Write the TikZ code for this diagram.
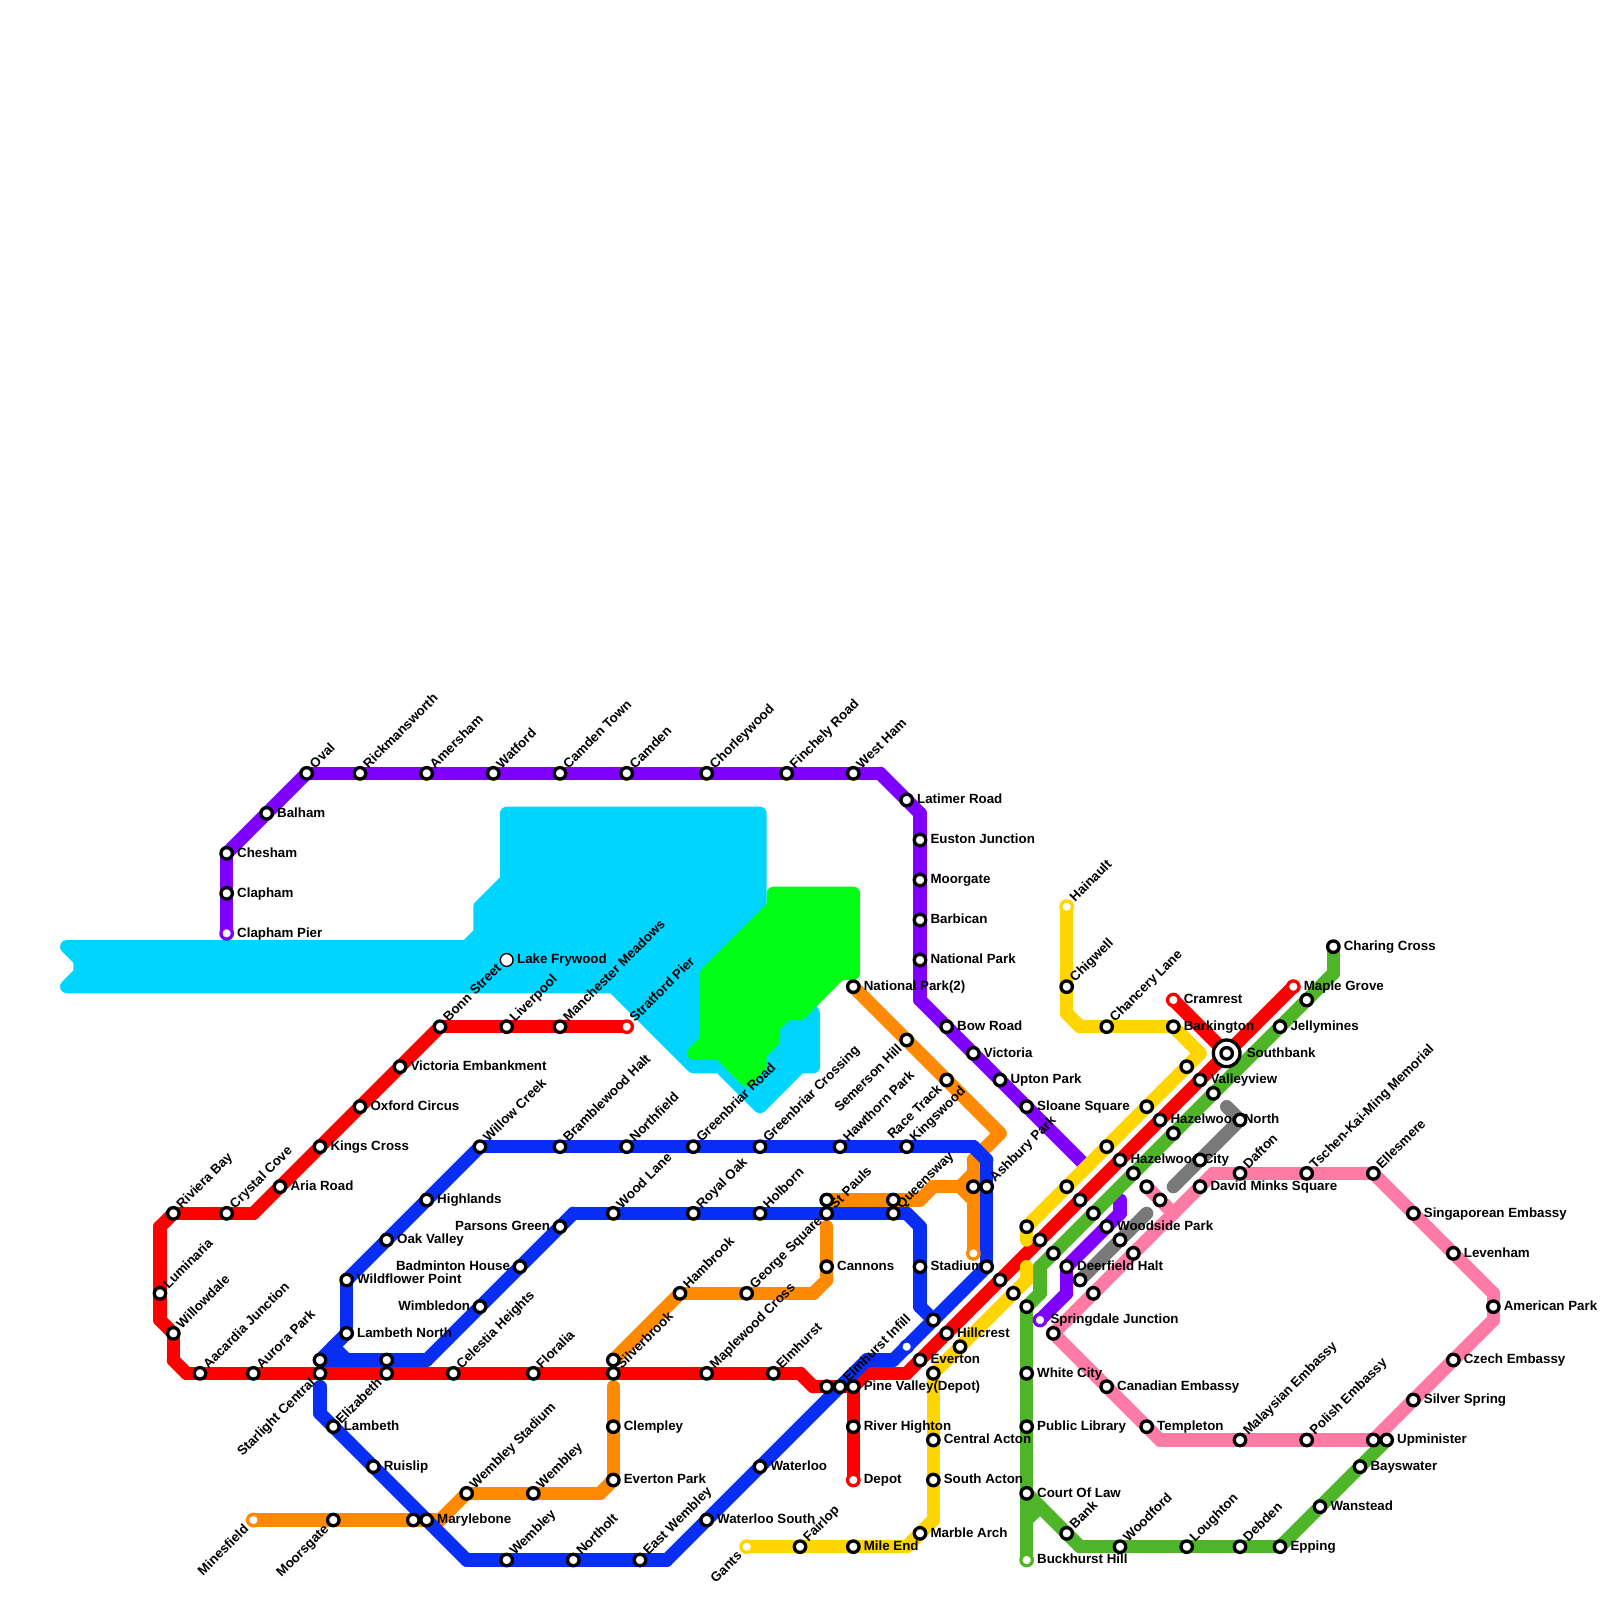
\documentclass[tikz,border=0pt]{standalone}
\usepackage{fontspec}
\setmainfont{Liberation Sans}
\usetikzlibrary{calc}
\definecolor{cwater}{HTML}{00D5FF}
\definecolor{cgrass}{HTML}{00FF14}
\definecolor{lpurple}{HTML}{8000FF}
\definecolor{lred}{HTML}{FF0000}
\definecolor{lblue}{HTML}{082EF5}
\definecolor{lorange}{HTML}{FF8A00}
\definecolor{lyellow}{HTML}{FFD500}
\definecolor{lgreen}{HTML}{4FB528}
\definecolor{lpink}{HTML}{FF7BA6}
\definecolor{lgray}{HTML}{797979}
\pgfdeclarelayer{water}
\pgfdeclarelayer{lines}
\pgfdeclarelayer{labels}
\pgfsetlayers{water,lines,labels,main}
\tikzset{
  ln/.style={line width=0.25cm,line cap=round,line join=round},
  rpurple/.style={ln,draw=lpurple},
  rred/.style={ln,draw=lred},
  rblue/.style={ln,draw=lblue},
  rorange/.style={ln,draw=lorange},
  ryellow/.style={ln,draw=lyellow},
  rgreen/.style={ln,draw=lgreen},
  rpink/.style={ln,draw=lpink},
  rgray/.style={ln,draw=lgray},
  stnring/.style={circle,inner sep=0pt,minimum size=0.215cm,line width=0.062cm,fill=white},
  stn/.style={stnring,draw=black},
  lakestn/.style={circle,inner sep=0pt,minimum size=0.24cm,line width=0.025cm,fill=white,draw=black},
  bigstn/.style={circle,inner sep=0pt,minimum size=0.5cm,line width=0.062cm,fill=white,draw=black},
  lab/.style={inner sep=0pt,text height=0.16cm,text depth=0.04cm,font=\fontsize{7.11}{8}\selectfont\bfseries,text=black},
  labr/.style={lab,anchor=west,xshift=0.19cm,yshift=-0.01cm},
  labl/.style={lab,anchor=east,xshift=-0.18cm,yshift=-0.01cm},
  laba/.style={lab,anchor=west,rotate=45,xshift=0.16cm},
  labb/.style={lab,anchor=east,rotate=45,xshift=-0.18cm,yshift=-0.02cm},
}
\newcommand\route[2]{\gdef\prevp{}\foreach \p in {#2}{\ifx\prevp\empty\else\draw[#1] (\prevp.center) -- (\p.center);\fi\xdef\prevp{\p}}}
\newcommand\R[2]{\node[labr] (lab-#1) at (#1.center) {#2};}
\newcommand\Lf[2]{\node[labl] (lab-#1) at (#1.center) {#2};}
\newcommand\A[2]{\node[laba] (lab-#1) at (#1.center) {#2};}
\newcommand\B[2]{\node[labb] (lab-#1) at (#1.center) {#2};}
\begin{document}
\begin{tikzpicture}[x=0.25cm,y=-0.25cm]
\useasboundingbox (0,0) rectangle (120,120);
% stations
\foreach \n/\x/\y in {
 clapham/17/67,chesham/17/64,balham/20/61,oval/23/58,rick/27/58,amersham/32/58,watford/37/58,camdent/42/58,camden/47/58,chorley/53/58,finchely/59/58,westham/64/58,latimer/68/60,euston/69/63,moorgate/69/66,barbican/69/69,natpark/69/72,bowroad/71/77,victoria/73/79,upton/75/81,sloane/77/83,
 woodside/83/92,deerfield/80/95,
 manchester/42/77,liverpool/38/77,bonn/33/77,vicemb/30/80,oxford/27/83,kings/24/86,aria/21/89,crystal/17/91,riviera/13/91,luminaria/12/97,willowdale/13/100,aacardia/15/103,aurora/19/103,starlight/24/103,elizabeth/29/103,celestia/34/103,floralia/40/103,silverbrook/46/103,maplewood/53/103,elmhurst/58/103,rs1/62/104,elminfill/63/104,pinevalley/64/104,everton/69/102,hillcrest/71/100,rs2/75/96,rs3/78/93,rs4/81/90,hazcity/84/87,haznorth/87/84,valleyview/90/81,river/64/107,
 ys1/77/92,ys2/80/89,ys3/83/86,ys4/86/83,ys5/89/80,barkington/88/77,chancery/83/77,chigwell/80/74,ys6/76/97,ys7/72/101,ys8/70/103,central/70/108,southacton/70/111,marble/69/115,mileend/64/116,fairlop/60/116,
 gs1/77/98,gs2/79/94,gs3/82/91,gs4/85/88,gs5/88/85,gs6/91/82,jelly/96/77,gs7/98/75,charing/100/71,whitecity/77/103,publib/77/107,court/77/112,bank/80/115,woodford/84/116,loughton/89/116,debden/93/116,epping/96/116,wanstead/99/113,bayswater/102/110,upminister/104/108,
 ps0/79/100,canadian/83/104,templeton/86/107,malaysian/93/108,polish/98/108,ps1/103/108,silver/106/105,czech/109/102,american/112/98,levenham/109/94,singaporean/106/91,ellesmere/103/88,tschen/98/88,dafton/93/88,david/90/89,ps2/85/94,ps3/82/97,ps4/86/89,ps5/87/90,
 grs1/93/84,grs2/90/87,grs3/84/93,grs4/81/96,
 willow/36/86,bramble/42/86,northfield/47/86,greenroad/52/86,greencross/57/86,hawthorn/63/86,kingswood/68/86,ashbury/74/89,bs1/74/95,bs2/70/99,waterloo/57/110,waterloos/53/114,eastwembley/48/117,northolt/43/117,wembleyb/38/117,marylebone/32/114,ruislip/28/110,lambeth/25/107,bs3/24/102,lambethn/26/100,wildflower/26/96,oakvalley/29/93,highlands/32/90,bs4/29/102,wimbledon/36/98,badminton/39/95,parsons/42/92,woodlane/46/91,royaloak/52/91,holborn/57/91,stpauls/62/91,queensway/67/91,stadium/69/95,
 moorsgate/25/114,os1/31/114,wembstad/35/112,wembleyo/40/112,evpark/46/111,clempley/46/107,os2/46/102,hambrook/51/97,george/56/97,cannons/62/95,os3/62/90,os4/67/90,os5/73/89,natpark2/64/74,semerson/68/78,racetrack/71/81%
}{\node[stn] (\n) at (\x,\y) {};}
\foreach \n/\x/\y/\c in {
 claphampier/17/70/lpurple,springdale/78/99/lpurple,stratford/47/77/lred,cramrest/88/75/lred,maple/97/74/lred,depot/64/111/lred,
 hainault/80/68/lyellow,gants/56/116/lyellow,buckhurst/77/117/lgreen,minesfield/19/114/lorange,oterm/73/94/lorange,bterm/68/101/lblue%
}{\node[stnring,draw=\c] (\n) at (\x,\y) {};}
\node[lakestn] (lake) at (38,72) {};
\node[bigstn] (southbankring) at (92,79) {};
\node[stn] (southbank) at (92,79) {};
% corners
\foreach \n/\x/\y in {
 pc1/66/58,pc2/69/61,pc3/69/75,pc4/81.5/87.5,pc5/84/90,pc6/84/91,pc7/80/97,
 rc1/19/91,rc2/12/92,rc3/12/99,rc4/13/102,rc5/14/103,rc6/60/103,rc7/61/104,rc8/65/103,rc9/68/103,
 yc1/77/93,yc2/90/79,yc3/81/77,yc4/80/76,yc5/77/95,yc6/77/96,yc7/70/114,yc8/68/116,
 gc1/77/114,gc2/78/113,gc3/81/116,gc4/78/97,gc5/78/95,gc6/100/73,
 pkc1/87/108,pkc2/112/99,pkc3/112/97,pkc4/91/88,pkc5/88/91,
 grc1/92/83,grc2/88/89,grc3/86/91,
 bc1/73/86,bc2/74/87,bc3/67/102,bc4/65/102,bc5/50/117,bc6/35/117,bc7/24/106,bc8/24/104,bc9/25/101,bc10/26/102,bc11/32/102,bc12/43/91,bc13/68/91,bc14/69/92,bc15/69/98,
 oc1/33/114,oc2/45/112,oc3/46/104,oc4/61/97,oc5/62/96,oc6/69/90,oc7/70/89,oc8/72/89,oc9/75/85,oc10/73/87,oc11/73/90,oc12/73/88,oc13/62/92%
}{\coordinate (\n) at (\x,\y);}
% water
\begin{pgfonlayer}{water}
\fill[white] (0,0) rectangle (120,120);
\filldraw[fill=cwater,draw=cwater,line width=0.25cm,line join=round] (5,71) -- (35,71) -- (36,70) -- (36,68) -- (38,66) -- (38,61) -- (57,61) -- (57,70) -- (61,76) -- (61,80) -- (60,80) -- (57,83) -- (54,80) -- (52,80) -- (46,74) -- (5,74) -- (6,73) -- (6,72) -- cycle;
\filldraw[fill=cgrass,draw=cgrass,line width=0.25cm,line join=round] (58,67) -- (64,67) -- (64,73) -- (63,73) -- (60,76) -- (59,76) -- (58,77) -- (58,78) -- (57,79) -- (57,80) -- (56,81) -- (54,79) -- (52,79) -- (53,78) -- (53,73) -- (58,68) -- cycle;
\end{pgfonlayer}
% routes
\begin{pgfonlayer}{lines}
\route{rpurple}{claphampier,clapham,chesham,balham,oval,rick,amersham,watford,camdent,camden,chorley,finchely,westham,pc1,latimer,pc2,euston,moorgate,barbican,natpark,pc3,bowroad,victoria,upton,sloane,pc4}
\route{rpurple}{pc5,pc6,woodside,deerfield,pc7,springdale}
\route{rorange}{minesfield,moorsgate,os1,marylebone,oc1,wembstad,wembleyo,oc2,evpark,clempley,oc3}
\route{rorange}{os2,hambrook,george,oc4,oc5,cannons,oc13}
\route{rorange}{os3,os4,oc6,oc7,oc8,oc12}
\route{rorange}{natpark2,semerson,racetrack,oc9,oc10,oc12,os5,oc11,oterm}
\route{rorange}{oc8,oc11}
\route{rred}{stratford,manchester,liverpool,bonn,vicemb,oxford,kings,aria,rc1,crystal,riviera,rc2,luminaria,rc3,willowdale,rc4,rc5,aacardia,aurora,starlight,elizabeth,celestia,floralia,silverbrook,maplewood,elmhurst,rc6,rc7,rs1,elminfill,pinevalley,rc8,rc9,everton,hillcrest,rs2,rs3,rs4,hazcity,haznorth,valleyview,southbank,maple}
\route{rred}{cramrest,southbank}
\route{rred}{pinevalley,river,depot}
\route{rblue}{wildflower,oakvalley,highlands,willow,bramble,northfield,greenroad,greencross,hawthorn,kingswood,bc1,bc2,ashbury,bs1,bterm,bc3,bc4,elminfill,waterloo,waterloos,bc5,eastwembley,northolt,wembleyb,bc6,marylebone,ruislip,lambeth,bc7,bc8}
\route{rblue}{wildflower,lambethn,bc9,bs3,bc10,bs4,bc11,wimbledon,badminton,parsons,bc12,woodlane,royaloak,holborn,stpauls,queensway,bc13,bc14,stadium,bc15,bs2}
\route{rblue}{bc9,bc10}
\route{rgray}{grc1,grs1,grs2,grc2}
\route{rgray}{grc3,grs3,grs4}
\route{rpink}{ps0,canadian,templeton,pkc1,malaysian,polish,ps1,silver,czech,pkc2,american,pkc3,levenham,singaporean,ellesmere,tschen,dafton,pkc4,david,pkc5,ps2,ps3,ps0}
\route{rpink}{ps4,ps5,pkc5}
\route{rgreen}{buckhurst,gc1,court,publib,whitecity,gs1,gc4,gc5,gs2,gs3,gs4,gs5,gs6,jelly,gs7,gc6,charing}
\route{rgreen}{court,bank,gc3,woodford,loughton,debden,epping,wanstead,bayswater,upminister}
\route{rgreen}{gc1,gc2}
\route{ryellow}{yc1,ys1,ys2,ys3,ys4,ys5,yc2,barkington,chancery,yc3,yc4,chigwell,hainault}
\route{ryellow}{yc5,yc6,ys6,ys7,ys8,central,southacton,yc7,marble,yc8,mileend,fairlop,gants}
\end{pgfonlayer}
% labels
\begin{pgfonlayer}{labels}
\R{claphampier}{Clapham Pier}\R{clapham}{Clapham}\R{chesham}{Chesham}\R{balham}{Balham}
\A{oval}{Oval}\A{rick}{Rickmansworth}\A{amersham}{Amersham}\A{watford}{Watford}\A{camdent}{Camden Town}\A{camden}{Camden}\A{chorley}{Chorleywood}\A{finchely}{Finchely Road}\A{westham}{West Ham}
\R{latimer}{Latimer Road}\R{euston}{Euston Junction}\R{moorgate}{Moorgate}\R{barbican}{Barbican}\R{natpark}{National Park}\R{bowroad}{Bow Road}\R{victoria}{Victoria}\R{upton}{Upton Park}\R{sloane}{Sloane Square}
\R{woodside}{Woodside Park}\R{deerfield}{Deerfield Halt}\R{springdale}{Springdale Junction}
\R{lake}{Lake Frywood}
\A{stratford}{Stratford Pier}\A{manchester}{Manchester Meadows}\A{liverpool}{Liverpool}\A{bonn}{Bonn Street}
\R{vicemb}{Victoria Embankment}\R{oxford}{Oxford Circus}\R{kings}{Kings Cross}\R{aria}{Aria Road}
\A{crystal}{Crystal Cove}\A{riviera}{Riviera Bay}\A{luminaria}{Luminaria}\A{willowdale}{Willowdale}\A{aacardia}{Aacardia Junction}\A{aurora}{Aurora Park}
\B{starlight}{Starlight Central}\B{elizabeth}{Elizabeth}
\A{celestia}{Celestia Heights}\A{floralia}{Floralia}\A{silverbrook}{Silverbrook}\A{maplewood}{Maplewood Cross}\A{elmhurst}{Elmhurst}\A{elminfill}{Elmhurst Infill}
\R{pinevalley}{Pine Valley(Depot)}\R{river}{River Highton}\R{depot}{Depot}\R{everton}{Everton}\R{hillcrest}{Hillcrest}
\R{hazcity}{Hazelwood City}\R{haznorth}{Hazelwood North}\R{valleyview}{Valleyview}\R{cramrest}{Cramrest}\R{maple}{Maple Grove}
\node[labr,xshift=0.18cm] (lab-southbank) at (southbank.center) {Southbank};
\R{barkington}{Barkington}\A{chancery}{Chancery Lane}\A{chigwell}{Chigwell}\A{hainault}{Hainault}
\R{central}{Central Acton}\R{southacton}{South Acton}\R{marble}{Marble Arch}\R{mileend}{Mile End}\A{fairlop}{Fairlop}\B{gants}{Gants}
\R{jelly}{Jellymines}\R{charing}{Charing Cross}\R{whitecity}{White City}\R{publib}{Public Library}\R{court}{Court Of Law}\R{buckhurst}{Buckhurst Hill}
\A{bank}{Bank}\A{woodford}{Woodford}\A{loughton}{Loughton}\A{debden}{Debden}\R{epping}{Epping}\R{wanstead}{Wanstead}\R{bayswater}{Bayswater}\R{upminister}{Upminister}
\R{canadian}{Canadian Embassy}\R{templeton}{Templeton}\A{malaysian}{Malaysian Embassy}\A{polish}{Polish Embassy}
\R{silver}{Silver Spring}\R{czech}{Czech Embassy}\R{american}{American Park}\R{levenham}{Levenham}\R{singaporean}{Singaporean Embassy}
\A{ellesmere}{Ellesmere}\A{tschen}{Tschen-Kai-Ming Memorial}\A{dafton}{Dafton}\R{david}{David Minks Square}
\A{willow}{Willow Creek}\A{bramble}{Bramblewood Halt}\A{northfield}{Northfield}\A{greenroad}{Greenbriar Road}\A{greencross}{Greenbriar Crossing}\A{hawthorn}{Hawthorn Park}\A{kingswood}{Kingswood}\A{ashbury}{Ashbury Park}
\R{waterloo}{Waterloo}\R{waterloos}{Waterloo South}\A{eastwembley}{East Wembley}\A{northolt}{Northolt}\A{wembleyb}{Wembley}
\R{marylebone}{Marylebone}\R{ruislip}{Ruislip}\R{lambeth}{Lambeth}\R{lambethn}{Lambeth North}\R{wildflower}{Wildflower Point}\R{oakvalley}{Oak Valley}\R{highlands}{Highlands}
\Lf{wimbledon}{Wimbledon}\Lf{badminton}{Badminton House}\Lf{parsons}{Parsons Green}
\A{woodlane}{Wood Lane}\A{royaloak}{Royal Oak}\A{holborn}{Holborn}\A{stpauls}{St Pauls}\A{queensway}{Queensway}\R{stadium}{Stadium}
\B{minesfield}{Minesfield}\B{moorsgate}{Moorsgate}\A{wembstad}{Wembley Stadium}\A{wembleyo}{Wembley}\R{evpark}{Everton Park}\R{clempley}{Clempley}
\A{hambrook}{Hambrook}\A{george}{George Square}\R{cannons}{Cannons}\R{natpark2}{National Park(2)}\B{semerson}{Semerson Hill}\B{racetrack}{Race Track}
\end{pgfonlayer}
\end{tikzpicture}
\end{document}
